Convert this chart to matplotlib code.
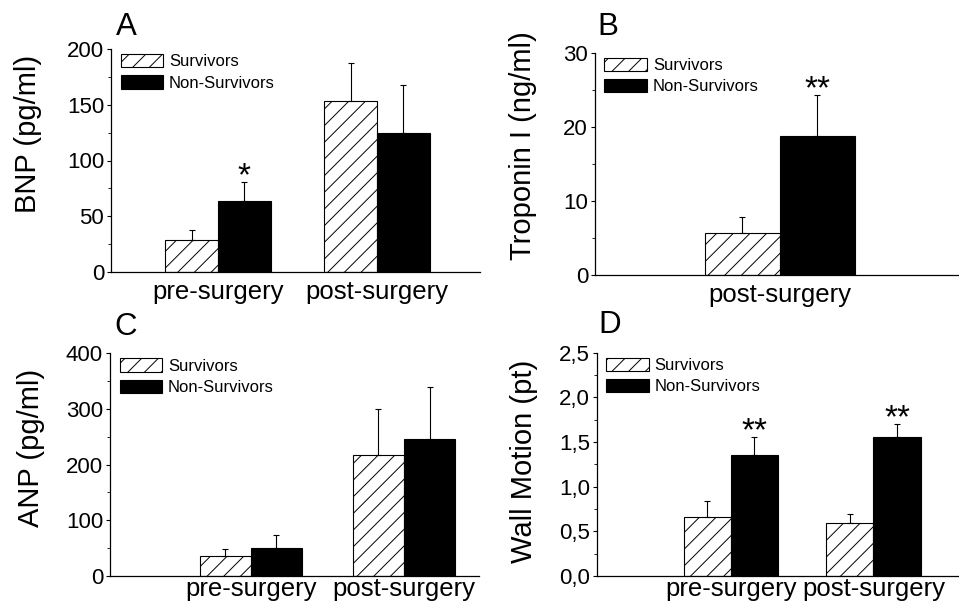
import matplotlib
matplotlib.use("Agg")
import matplotlib.pyplot as plt
from matplotlib.ticker import FixedLocator, FixedFormatter
import numpy as np

plt.rcParams['font.family'] = ['Liberation Sans', 'DejaVu Sans']
plt.rcParams['hatch.linewidth'] = 0.7

# ---------------- data ----------------
series_names = ['Survivors', 'Non-Survivors']

groups_bnp = ['pre-surgery', 'post-surgery']
bnp_surv = [29, 153]
bnp_surv_err = [9, 34]
bnp_non = [64, 125]
bnp_non_err = [17, 43]
bnp_sig = ['*', '']
bnp_ticks = [0, 50, 100, 150, 200]
bnp_tick_labels = ['0', '50', '100', '150', '200']

groups_trop = ['post-surgery']
trop_surv = [5.7]
trop_surv_err = [2.1]
trop_non = [18.7]
trop_non_err = [5.6]
trop_sig = ['**']
trop_ticks = [0, 10, 20, 30]
trop_tick_labels = ['0', '10', '20', '30']

groups_anp = ['pre-surgery', 'post-surgery']
anp_surv = [36, 217]
anp_surv_err = [12, 83]
anp_non = [50, 246]
anp_non_err = [23, 93]
anp_sig = ['', '']
anp_ticks = [0, 100, 200, 300, 400]
anp_tick_labels = ['0', '100', '200', '300', '400']

groups_wm = ['pre-surgery', 'post-surgery']
wm_surv = [0.66, 0.59]
wm_surv_err = [0.18, 0.10]
wm_non = [1.355, 1.556]
wm_non_err = [0.20, 0.15]
wm_sig = ['**', '**']
wm_ticks = [0.0, 0.5, 1.0, 1.5, 2.0, 2.5]
wm_tick_labels = ['0,0', '0,5', '1,0', '1,5', '2,0', '2,5']

# ---------------- layout ----------------
W, H = 959, 607
fig = plt.figure(figsize=(W / 100, H / 100), dpi=100)


def px_axes(x0, y_top, x1, y_bot):
    return fig.add_axes([x0 / W, 1 - y_bot / H, (x1 - x0) / W, (y_bot - y_top) / H])


def panel(ax, groups, surv, surv_err, non, non_err, sig, ticks, tick_labels,
          ylabel, xlim, width, ylab_xy, letter, letter_xy, xpad):
    pos = np.arange(len(groups))
    xs = pos - width / 2
    xn = pos + width / 2
    ax.bar(xs, surv, width, facecolor='white', edgecolor='black',
           hatch='//', linewidth=0.8, label=series_names[0], zorder=2)
    ax.bar(xn, non, width, facecolor='black', edgecolor='black',
           linewidth=0.8, label=series_names[1], zorder=2)
    zeros = [0] * len(groups)
    ax.errorbar(xs, surv, yerr=[zeros, surv_err], fmt='none', ecolor='black',
                elinewidth=0.8, capsize=2, capthick=0.8, zorder=3)
    ax.errorbar(xn, non, yerr=[zeros, non_err], fmt='none', ecolor='black',
                elinewidth=0.8, capsize=2, capthick=0.8, zorder=3)
    for x, v, e, s in zip(xn, non, non_err, sig):
        if s:
            ax.annotate(s, xy=(x, v + e), xytext=(0, -2.5), textcoords='offset points',
                        ha='center', va='baseline', fontsize=24)
    ax.set_xlim(*xlim)
    ax.set_ylim(ticks[0], ticks[-1])
    ax.yaxis.set_major_locator(FixedLocator(ticks))
    ax.yaxis.set_major_formatter(FixedFormatter(tick_labels))
    minors = [(a + b) / 2 for a, b in zip(ticks[:-1], ticks[1:])]
    ax.yaxis.set_minor_locator(FixedLocator(minors))
    ax.set_xticks(pos)
    ax.set_xticklabels(groups, fontsize=18.5)
    ax.tick_params(axis='x', length=0, pad=xpad)
    ax.tick_params(axis='y', which='major', length=3, width=0.8, pad=2, labelsize=16)
    ax.tick_params(axis='y', which='minor', length=2, width=0.6)
    for s in ('top', 'right'):
        ax.spines[s].set_visible(False)
    for s in ('left', 'bottom'):
        ax.spines[s].set_linewidth(0.9)
    ax.set_ylabel(ylabel, fontsize=21, va='center')
    ax.yaxis.set_label_coords(*ylab_xy)
    ax.legend(loc='upper left', bbox_to_anchor=(0.026, 0.977), frameon=False,
              fontsize=12, handlelength=2.55, handleheight=0.84,
              handletextpad=0.35, labelspacing=0.35, borderpad=0,
              borderaxespad=0)
    fig.text(letter_xy[0] / W, 1 - letter_xy[1] / H, letter, fontsize=22.5,
             va='baseline', ha='left')


axA = px_axes(111, 49, 480, 272)
panel(axA, groups_bnp, bnp_surv, bnp_surv_err, bnp_non, bnp_non_err, bnp_sig,
      bnp_ticks, bnp_tick_labels, 'BNP (pg/ml)', (-0.673, 1.648), 0.333,
      (-0.2236, 0.62), 'A', (116, 35), 6)

axB = px_axes(595, 52.7, 959, 275)
panel(axB, groups_trop, trop_surv, trop_surv_err, trop_non, trop_non_err, trop_sig,
      trop_ticks, trop_tick_labels, 'Troponin I (ng/ml)', (-0.822, 0.796), 0.333,
      (-0.198, 0.58), 'B', (597, 35), 6)

axC = px_axes(110, 353.3, 479, 576)
panel(axC, groups_anp, anp_surv, anp_surv_err, anp_non, anp_non_err, anp_sig,
      anp_ticks, anp_tick_labels, 'ANP (pg/ml)', (-0.92, 1.49), 0.334,
      (-0.213, 0.576), 'C', (114, 335), 1)

axD = px_axes(597, 352.7, 959, 576)
panel(axD, groups_wm, wm_surv, wm_surv_err, wm_non, wm_non_err, wm_sig,
      wm_ticks, wm_tick_labels, 'Wall Motion (pt)', (-0.94, 1.60), 0.33,
      (-0.2017, 0.513), 'D', (598, 333), 1)

fig.savefig('out.png', dpi=100)
